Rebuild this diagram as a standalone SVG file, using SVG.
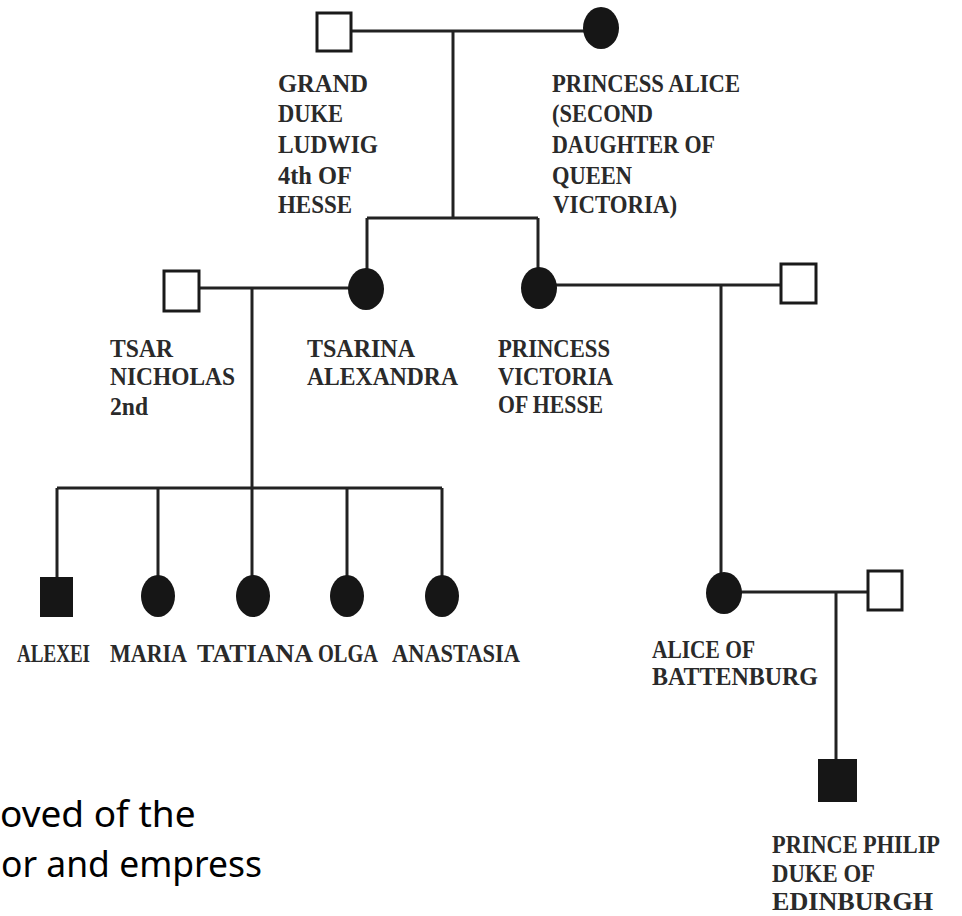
<svg xmlns="http://www.w3.org/2000/svg" width="962" height="916" viewBox="0 0 962 916">
<style>
.bg{fill:#ffffff}
.ln{stroke:#222;stroke-width:3;fill:none}
.sq{fill:#fff;stroke:#1a1a1a;stroke-width:3}
.sqf{fill:#161616;stroke:#161616;stroke-width:2}
.ci{fill:#161616}
.lb{font-family:"Liberation Serif","Times New Roman",serif;font-weight:bold;font-size:25px;fill:#2a2a2a}
.cap{font-family:"Noto Sans","Open Sans",sans-serif;font-size:37px;fill:#000}
</style>
<rect class="bg" x="0" y="0" width="962" height="916"/>
<g id="connectors">
<line class="ln" x1="351" y1="31" x2="585" y2="31"/>
<line class="ln" x1="453" y1="31" x2="453" y2="218"/>
<line class="ln" x1="367" y1="218" x2="538" y2="218"/>
<line class="ln" x1="367" y1="218" x2="367" y2="270"/>
<line class="ln" x1="538" y1="218" x2="538" y2="270"/>
<line class="ln" x1="199" y1="288" x2="350" y2="288"/>
<line class="ln" x1="252" y1="288" x2="252" y2="488"/>
<line class="ln" x1="57" y1="488" x2="442" y2="488"/>
<line class="ln" x1="57" y1="488" x2="57" y2="578"/>
<line class="ln" x1="158" y1="488" x2="158" y2="577"/>
<line class="ln" x1="252" y1="488" x2="252" y2="577"/>
<line class="ln" x1="347" y1="488" x2="347" y2="577"/>
<line class="ln" x1="442" y1="488" x2="442" y2="577"/>
<line class="ln" x1="555" y1="285" x2="781" y2="285"/>
<line class="ln" x1="721" y1="285" x2="721" y2="574"/>
<line class="ln" x1="740" y1="592" x2="867" y2="592"/>
<line class="ln" x1="836" y1="592" x2="836" y2="760"/>
</g>
<g id="ludwig">
<rect class="sq" x="317" y="13" width="34" height="38"/>
<text class="lb" x="278" y="92" textLength="90" lengthAdjust="spacingAndGlyphs">GRAND</text>
<text class="lb" x="278" y="122" textLength="65" lengthAdjust="spacingAndGlyphs">DUKE</text>
<text class="lb" x="278" y="153" textLength="100" lengthAdjust="spacingAndGlyphs">LUDWIG</text>
<text class="lb" x="278" y="184" textLength="74" lengthAdjust="spacingAndGlyphs">4th OF</text>
<text class="lb" x="278" y="213" textLength="74" lengthAdjust="spacingAndGlyphs">HESSE</text>
</g>
<g id="alice">
<ellipse class="ci" cx="601" cy="28" rx="18" ry="21"/>
<text class="lb" x="552" y="92" textLength="188" lengthAdjust="spacingAndGlyphs">PRINCESS ALICE</text>
<text class="lb" x="552" y="122" textLength="101" lengthAdjust="spacingAndGlyphs">(SECOND</text>
<text class="lb" x="552" y="153" textLength="163" lengthAdjust="spacingAndGlyphs">DAUGHTER OF</text>
<text class="lb" x="552" y="184" textLength="80" lengthAdjust="spacingAndGlyphs">QUEEN</text>
<text class="lb" x="553" y="213" textLength="124" lengthAdjust="spacingAndGlyphs">VICTORIA)</text>
</g>
<g id="nicholas">
<rect class="sq" x="164" y="271" width="35" height="40"/>
<text class="lb" x="110" y="357" textLength="63" lengthAdjust="spacingAndGlyphs">TSAR</text>
<text class="lb" x="110" y="385" textLength="125" lengthAdjust="spacingAndGlyphs">NICHOLAS</text>
<text class="lb" x="110" y="415" textLength="38" lengthAdjust="spacingAndGlyphs">2nd</text>
</g>
<g id="alexandra">
<ellipse class="ci" cx="366" cy="289" rx="18" ry="21"/>
<text class="lb" x="307" y="357" textLength="108" lengthAdjust="spacingAndGlyphs">TSARINA</text>
<text class="lb" x="307" y="385" textLength="151" lengthAdjust="spacingAndGlyphs">ALEXANDRA</text>
</g>
<g id="victoria">
<ellipse class="ci" cx="539" cy="288" rx="18" ry="21"/>
<text class="lb" x="498" y="357" textLength="112" lengthAdjust="spacingAndGlyphs">PRINCESS</text>
<text class="lb" x="498" y="385" textLength="115" lengthAdjust="spacingAndGlyphs">VICTORIA</text>
<text class="lb" x="498" y="413" textLength="105" lengthAdjust="spacingAndGlyphs">OF HESSE</text>
</g>
<g id="victoria-husband">
<rect class="sq" x="781" y="264" width="35" height="39"/>
</g>
<g id="alexei">
<rect class="sqf" x="41" y="578" width="31" height="38"/>
<text class="lb" x="17" y="662" textLength="73" lengthAdjust="spacingAndGlyphs">ALEXEI</text>
</g>
<g id="maria">
<ellipse class="ci" cx="158" cy="596" rx="17" ry="21"/>
<text class="lb" x="110" y="662" textLength="77" lengthAdjust="spacingAndGlyphs">MARIA</text>
</g>
<g id="tatiana">
<ellipse class="ci" cx="253" cy="596" rx="17" ry="21"/>
<text class="lb" x="197" y="662" textLength="116" lengthAdjust="spacingAndGlyphs">TATIANA</text>
</g>
<g id="olga">
<ellipse class="ci" cx="347" cy="596" rx="17" ry="21"/>
<text class="lb" x="318" y="662" textLength="60" lengthAdjust="spacingAndGlyphs">OLGA</text>
</g>
<g id="anastasia">
<ellipse class="ci" cx="442" cy="596" rx="17" ry="21"/>
<text class="lb" x="392" y="662" textLength="128" lengthAdjust="spacingAndGlyphs">ANASTASIA</text>
</g>
<g id="alice-battenburg">
<ellipse class="ci" cx="724" cy="593" rx="18" ry="21"/>
<text class="lb" x="652" y="658" textLength="103" lengthAdjust="spacingAndGlyphs">ALICE OF</text>
<text class="lb" x="652" y="685" textLength="166" lengthAdjust="spacingAndGlyphs">BATTENBURG</text>
</g>
<g id="alice-husband">
<rect class="sq" x="868" y="571" width="34" height="39"/>
</g>
<g id="philip">
<rect class="sqf" x="819" y="760" width="37" height="41"/>
<text class="lb" x="772" y="853" textLength="168" lengthAdjust="spacingAndGlyphs">PRINCE PHILIP</text>
<text class="lb" x="772" y="882" textLength="103" lengthAdjust="spacingAndGlyphs">DUKE OF</text>
<text class="lb" x="772" y="910" textLength="161" lengthAdjust="spacingAndGlyphs">EDINBURGH</text>
</g>
<g id="caption">
<text class="cap" x="0" y="827">oved of the</text>
<text class="cap" x="1" y="877" textLength="261" lengthAdjust="spacingAndGlyphs">or and empress</text>
</g>
</svg>
